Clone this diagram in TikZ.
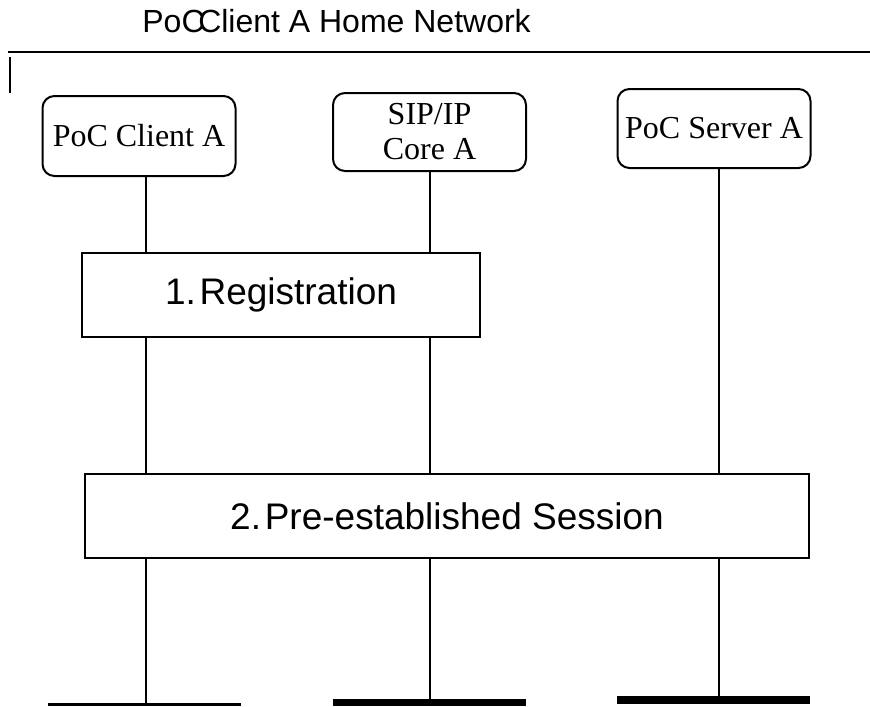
\documentclass[tikz,border=0pt]{standalone}
\usepackage{fontspec}
\setmainfont{Liberation Serif}
\newfontfamily\arialfont{Liberation Sans}
\usetikzlibrary{positioning,backgrounds}

\tikzset{
  entity/.style={draw, line width=1pt, rounded corners=6pt, fill=white, minimum width=96.5pt, inner sep=0, align=center, font=\fontsize{16}{17.5}\selectfont},
  procbox/.style={draw, line width=1pt, fill=white, inner sep=0, minimum height=42pt, font=\arialfont\fontsize{18.5}{22}\selectfont},
  lifeline/.style={line width=0.9pt},
}

\begin{document}
\begin{tikzpicture}[x=0.5pt, y=-0.5pt]
  \useasboundingbox (0,0) rectangle (870,706);
  % Tieu de va duong ke tren cung
  \node[anchor=base west, inner sep=0, font=\arialfont\fontsize{16}{18}\selectfont] (title) at (142,33) {PoC\kern-0.2emClient A Home Network};
  \draw[line width=1pt] (8,52) -- (870,52);
  \draw[line width=1pt] (10,57) -- (10,93);

  % Cac thuc the
  \node[entity, minimum height=40pt] (clientA) at (139,136) {PoC Client A};
  \node[entity, minimum height=39pt] (coreA) at (429.5,132) {SIP/IP\\Core A};
  \node[entity, minimum height=39.5pt] (serverA) at (714,128.5) {PoC Server A};

  % Cac buoc
  \node[procbox, minimum width=199pt] (reg) at (281,295) {1.\kern0.1emRegistration};
  \node[procbox, minimum width=362pt] (preses) at (447,516) {2.\kern0.1emPre-established Session};

  % Duong song (ve phia sau cac hop)
  \coordinate (endA) at (146,704);
  \coordinate (endB) at (430,700);
  \coordinate (endC) at (719,697);
  \begin{scope}[on background layer]
    \draw[lifeline] (endA |- clientA.south) -- (endA);
    \draw[lifeline] (endB |- coreA.south) -- (endB);
    \draw[lifeline] (endC |- serverA.south) -- (endC);
  \end{scope}

  % Thanh ket thuc
  \fill (48,703) rectangle (241,706);
  \fill (333,699) rectangle (526,706);
  \fill (617,696) rectangle (810,704);
\end{tikzpicture}
\end{document}
